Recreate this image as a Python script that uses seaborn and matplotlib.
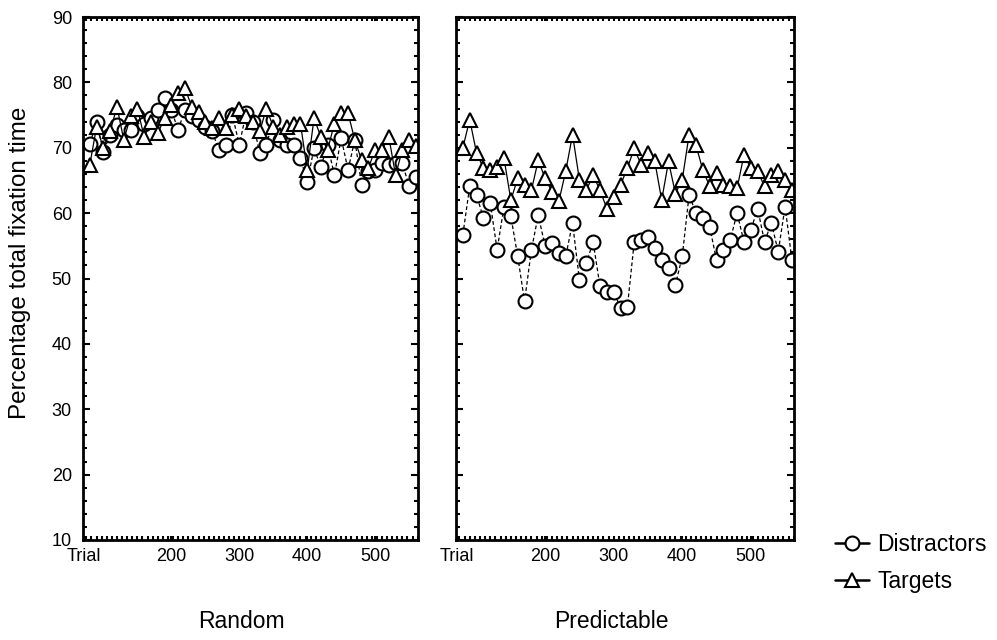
import matplotlib
matplotlib.use("Agg")
import matplotlib.pyplot as plt
from matplotlib.lines import Line2D
from matplotlib.ticker import MultipleLocator
import seaborn as sns

# ---------------- data ----------------
trials = list(range(80, 561, 10))

random_distractors = [70.5, 74.0, 69.4, 72.0, 73.5, 72.7, 72.7, 74.8, 73.7, 74.5,
                      75.8, 77.6, 75.8, 72.7, 75.8, 74.8, 74.3, 73.2, 72.5, 69.7,
                      70.4, 75.0, 70.4, 75.3, 74.0, 69.2, 70.4, 74.3, 71.2, 70.4,
                      70.4, 68.4, 64.8, 69.9, 67.1, 70.4, 65.8, 71.5, 66.6, 71.2,
                      64.3, 66.4, 66.6, 67.6, 67.4, 67.6, 67.6, 64.1, 65.6]
random_targets = [67.4, 73.2, 70.0, 72.5, 76.3, 71.2, 74.8, 76.0, 71.7, 74.0,
                  72.2, 74.5, 76.5, 78.3, 79.1, 76.3, 75.5, 74.0, 73.0, 74.5,
                  73.0, 75.0, 76.0, 74.8, 74.0, 72.5, 76.0, 73.2, 72.0, 73.2,
                  73.7, 73.7, 66.6, 74.5, 71.7, 69.7, 73.7, 75.3, 75.3, 71.2,
                  68.1, 66.9, 69.7, 69.7, 71.7, 65.8, 69.7, 71.2, 70.2]
predictable_distractors = [56.7, 64.1, 62.8, 59.2, 61.5, 54.4, 61.0, 59.5, 53.4, 46.5,
                           54.4, 59.7, 54.9, 55.4, 53.9, 53.4, 58.5, 49.8, 52.3, 55.6,
                           48.8, 48.0, 48.0, 45.5, 45.7, 55.6, 55.9, 56.4, 54.6, 52.8,
                           51.6, 49.0, 53.4, 62.8, 60.0, 59.2, 57.9, 52.8, 54.4, 55.9,
                           60.0, 55.6, 57.4, 60.7, 55.6, 58.5, 54.1, 61.0, 52.8]
predictable_targets = [70.0, 74.3, 69.2, 66.9, 66.6, 67.1, 68.4, 62.0, 65.3, 64.3,
                       63.5, 68.1, 65.3, 63.3, 61.8, 66.4, 72.0, 65.1, 63.5, 65.8,
                       63.5, 60.7, 62.5, 64.3, 66.9, 69.9, 67.4, 69.2, 67.9, 62.0,
                       67.9, 63.0, 65.1, 72.0, 70.4, 66.6, 64.1, 66.1, 64.3, 64.1,
                       63.8, 68.9, 66.9, 66.4, 64.1, 65.8, 66.4, 65.1, 63.5]

y_ticks = [10, 20, 30, 40, 50, 60, 70, 80, 90]
x_tick_values = [72, 200, 300, 400, 500]
x_tick_labels = ["Trial", "200", "300", "400", "500"]
panel_titles = ["Random", "Predictable"]
series_names = ["Distractors", "Targets"]
y_label = "Percentage total fixation time"

# ---------------- style ----------------
sns.set_style("white")
plt.rcParams["font.family"] = ["Liberation Sans", "DejaVu Sans"]
plt.rcParams["text.color"] = "black"
plt.rcParams["axes.labelcolor"] = "black"
plt.rcParams["xtick.color"] = "black"
plt.rcParams["ytick.color"] = "black"

fig = plt.figure(figsize=(9.97, 6.4), dpi=100)
W, H = 997, 640
top_px, bot_px = 17, 540
ax_l = fig.add_axes([83 / W, 1 - bot_px / H, (418 - 83) / W, (bot_px - top_px) / H])
ax_r = fig.add_axes([456 / W, 1 - bot_px / H, (794 - 456) / W, (bot_px - top_px) / H])

circle_kw = dict(marker="o", markersize=10, markerfacecolor="white",
                 markeredgecolor="black", markeredgewidth=1.5)
tri_kw = dict(marker="^", markersize=10.5, markerfacecolor="white",
              markeredgecolor="black", markeredgewidth=1.5)

panels = [(ax_l, random_distractors, random_targets),
          (ax_r, predictable_distractors, predictable_targets)]

for i, (ax, dist, targ) in enumerate(panels):
    sns.lineplot(x=trials, y=dist, ax=ax, color="black", linewidth=0.9,
                 linestyle=(0, (3, 2)), **circle_kw)
    sns.lineplot(x=trials, y=targ, ax=ax, color="black", linewidth=0.9,
                 linestyle="-", **tri_kw)
    ax.set_xlim(70, 563)
    ax.set_ylim(10, 90)
    ax.set_ylabel("")
    ax.set_xlabel("")
    for s in ax.spines.values():
        s.set_visible(True)
        s.set_linewidth(2.0)
        s.set_color("black")
    ax.set_xticks(x_tick_values)
    ax.set_xticklabels(x_tick_labels)
    ax.xaxis.set_minor_locator(MultipleLocator(7.5))
    ax.set_yticks(y_ticks)
    ax.yaxis.set_minor_locator(MultipleLocator(2))
    ax.tick_params(axis="both", which="both", direction="in", top=True, right=True,
                   bottom=True, left=True, colors="black", labelcolor="black")
    ax.tick_params(axis="x", which="major", length=3, width=1.5, pad=6, labelsize=13)
    ax.tick_params(axis="x", which="minor", length=3, width=1.5)
    ax.tick_params(axis="y", which="major", length=5, width=1.5, pad=8, labelsize=13)
    ax.tick_params(axis="y", which="minor", length=3, width=1.5)
    ax.set_xlabel(panel_titles[i], fontsize=16.5, labelpad=0, color="black")
    if i == 0:
        ax.set_ylabel(y_label, fontsize=17.5, color="black")
        ax.yaxis.set_label_coords(-0.155, 0.53)
        ax.xaxis.set_label_coords((241 - 83) / 335, (540 - 610) / 523)
    else:
        ax.set_yticklabels([])
        ax.xaxis.set_label_coords((611 - 456) / 338, (540 - 610) / 523)
    ax.xaxis.label.set_va("top")

handles = [Line2D([], [], color="black", linewidth=1.8, **circle_kw),
           Line2D([], [], color="black", linewidth=1.8, **tri_kw)]
leg = fig.legend(handles, series_names, loc="upper left",
                 bbox_to_anchor=(835 / W, 1 - 533 / H), frameon=False, fontsize=16.5,
                 handlelength=1.5, handletextpad=0.35, labelspacing=0.6, borderpad=0,
                 borderaxespad=0)
for t in leg.get_texts():
    t.set_color("black")

fig.savefig("out.png", dpi=100)
